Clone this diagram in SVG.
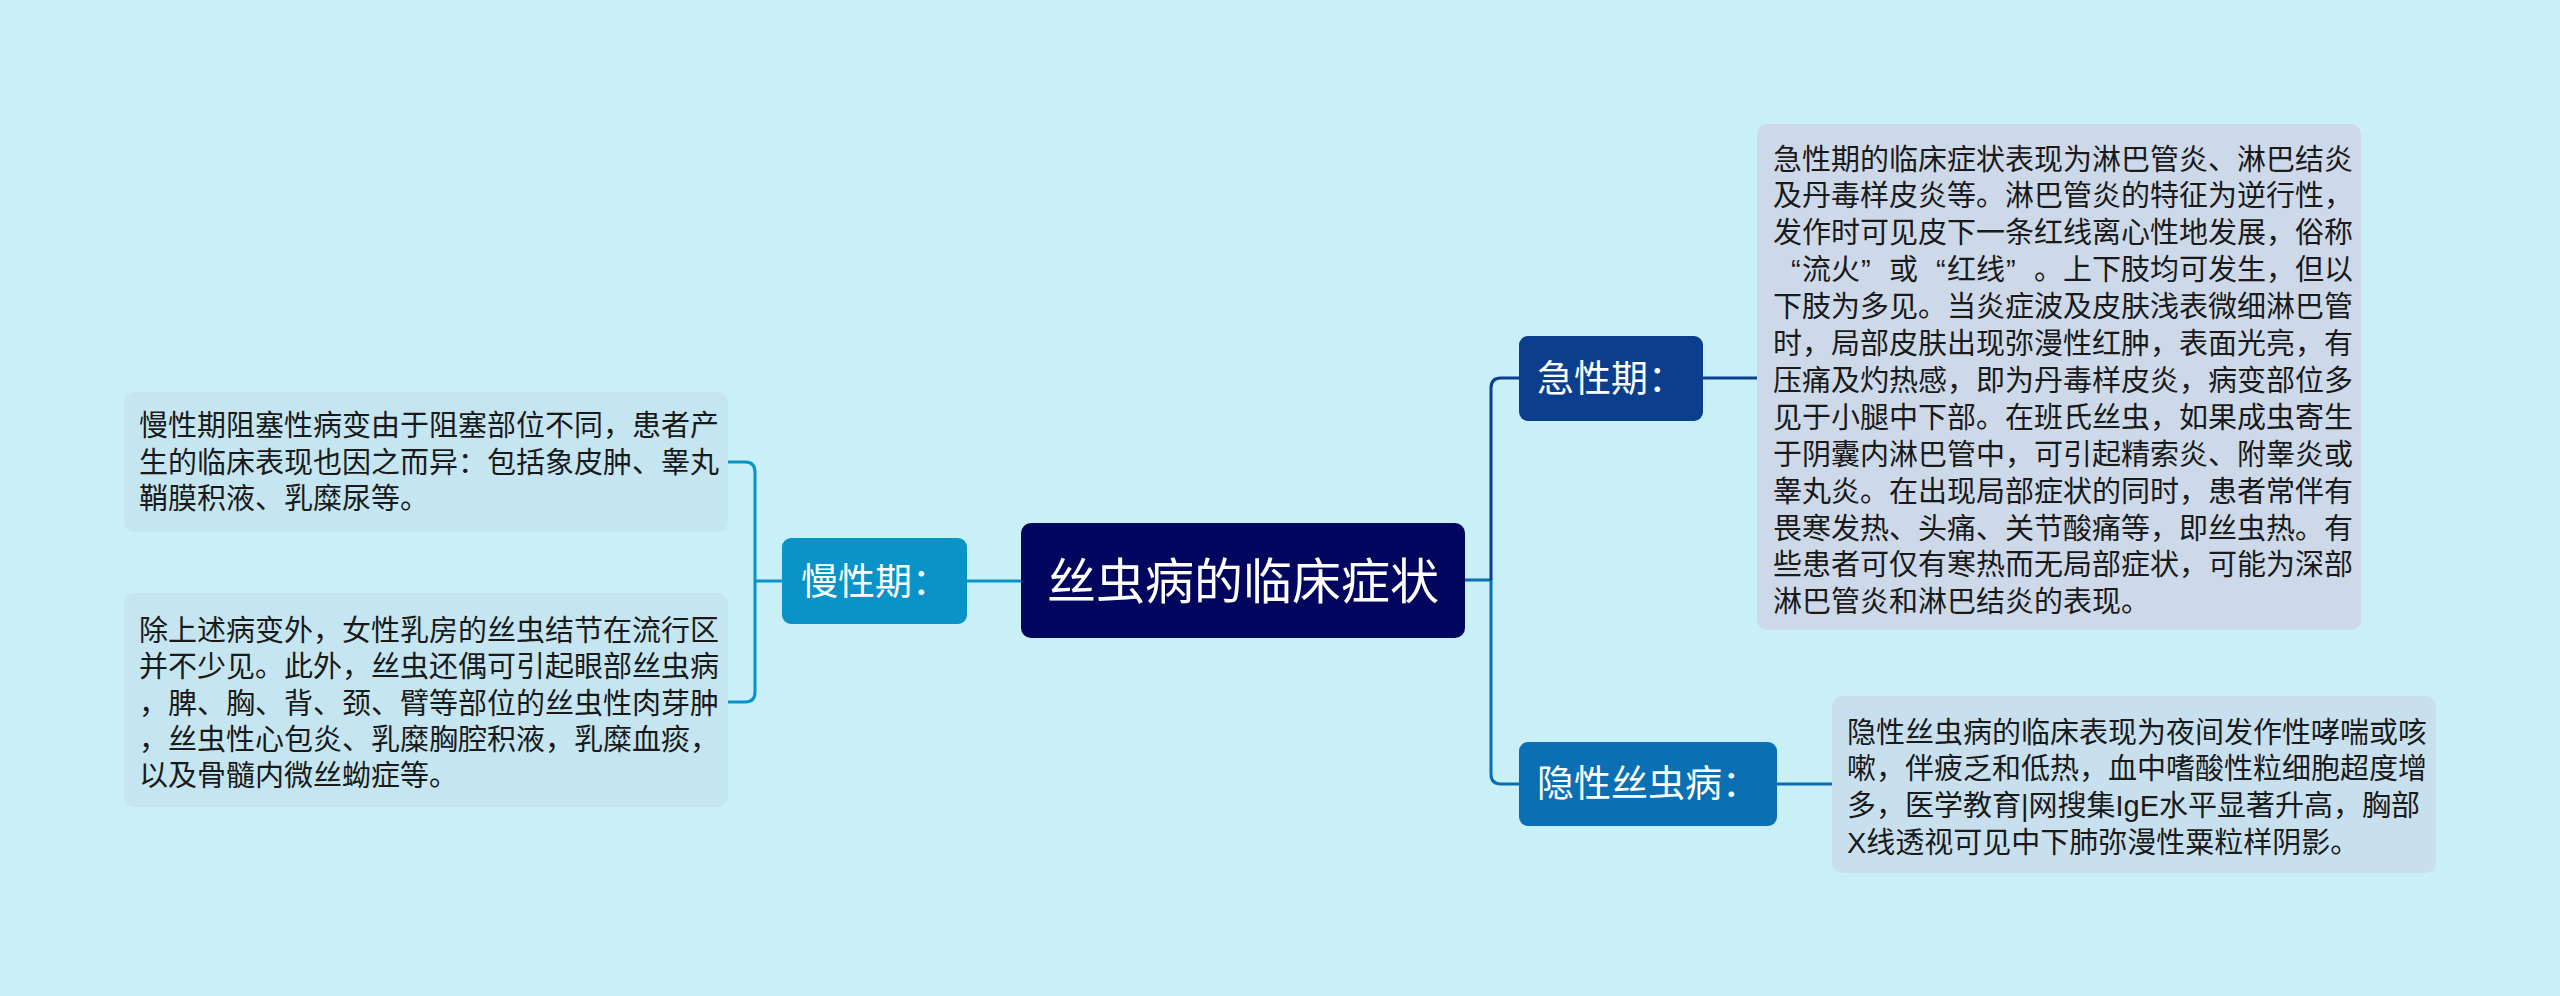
<svg xmlns="http://www.w3.org/2000/svg" width="2560" height="996" viewBox="0 0 2560 996">
<style>
.body{font-family:"Liberation Sans","Noto Sans CJK SC",sans-serif;font-size:29px;fill:#1a1a1a}
.lbl{font-family:"Noto Sans CJK SC","Noto Sans",sans-serif;font-size:37px;fill:#ffffff}
.root{font-family:"Noto Sans CJK SC","Noto Sans",sans-serif;font-size:49px;fill:#ffffff}
.ln{fill:none;stroke-width:3}
</style>
<rect width="2560" height="996" fill="#c9eff7"/>
<g id="connectors">
<path class="ln" stroke="#0993c6" d="M967,581 H1021"/>
<path class="ln" stroke="#0993c6" d="M782,581 H755 M728,462 H745 Q755,462 755,472 V692 Q755,702 745,702 H728"/>
<path class="ln" stroke="#0a6fb0" d="M1465,580 H1491 V774 Q1491,784 1501,784 H1519"/>
<path class="ln" stroke="#0b3f8e" d="M1491,580 V388 Q1491,378 1501,378 H1519"/>
<path class="ln" stroke="#0b3f8e" d="M1703,378 H1757"/>
<path class="ln" stroke="#0a6fb0" d="M1777,784 H1832"/>
</g>
<g id="root">
<rect x="1021" y="523" width="444" height="115" rx="10" fill="#03065f"/>
<text class="root" x="1243" y="599" text-anchor="middle">丝虫病的临床症状</text>
</g>
<g id="chronic">
<rect x="782" y="538" width="185" height="86" rx="9" fill="#0993c6"/>
<text class="lbl" x="801" y="595">慢性期：</text>
</g>
<g id="chronic-text1">
<rect x="124" y="392" width="604" height="140" rx="10" fill="#c5e6f1"/>
<text class="body"><tspan x="139" y="436">慢性期阻塞性病变由于阻塞部位不同，患者产</tspan><tspan x="139" y="472.7">生的临床表现也因之而异：包括象皮肿、睾丸</tspan><tspan x="139" y="509.4">鞘膜积液、乳糜尿等。</tspan></text>
</g>
<g id="chronic-text2">
<rect x="124" y="593" width="604" height="214" rx="10" fill="#c5e6f1"/>
<text class="body"><tspan x="139" y="641">除上述病变外，女性乳房的丝虫结节在流行区</tspan><tspan x="139" y="677.3">并不少见。此外，丝虫还偶可引起眼部丝虫病</tspan><tspan x="139" y="713.6">，脾、胸、背、颈、臂等部位的丝虫性肉芽肿</tspan><tspan x="139" y="749.9">，丝虫性心包炎、乳糜胸腔积液，乳糜血痰，</tspan><tspan x="139" y="786.2">以及骨髓内微丝蚴症等。</tspan></text>
</g>
<g id="acute">
<rect x="1519" y="336" width="184" height="85" rx="9" fill="#0b3f8e"/>
<text class="lbl" x="1537" y="392">急性期：</text>
</g>
<g id="acute-text">
<rect x="1757" y="124" width="604" height="506" rx="10" fill="#cdd9e9"/>
<text class="body"><tspan x="1773" y="169.5">急性期的临床症状表现为淋巴管炎、淋巴结炎</tspan><tspan x="1773" y="206.4">及丹毒样皮炎等。淋巴管炎的特征为逆行性，</tspan><tspan x="1773" y="243.3">发作时可见皮下一条红线离心性地发展，俗称</tspan><tspan x="1791 1802 1831 1861 1889 1936 1947 1976 2006 2034 2063 2092 2121 2150 2179 2208 2237 2266 2295 2324" y="280.2">“流火”或“红线”。上下肢均可发生，但以</tspan><tspan x="1773" y="317.1">下肢为多见。当炎症波及皮肤浅表微细淋巴管</tspan><tspan x="1773" y="354">时，局部皮肤出现弥漫性红肿，表面光亮，有</tspan><tspan x="1773" y="390.9">压痛及灼热感，即为丹毒样皮炎，病变部位多</tspan><tspan x="1773" y="427.8">见于小腿中下部。在班氏丝虫，如果成虫寄生</tspan><tspan x="1773" y="464.7">于阴囊内淋巴管中，可引起精索炎、附睾炎或</tspan><tspan x="1773" y="501.6">睾丸炎。在出现局部症状的同时，患者常伴有</tspan><tspan x="1773" y="538.5">畏寒发热、头痛、关节酸痛等，即丝虫热。有</tspan><tspan x="1773" y="575.4">些患者可仅有寒热而无局部症状，可能为深部</tspan><tspan x="1773" y="612.3">淋巴管炎和淋巴结炎的表现。</tspan></text>
</g>
<g id="occult">
<rect x="1519" y="742" width="258" height="84" rx="9" fill="#0a70b3"/>
<text class="lbl" x="1537" y="797">隐性丝虫病：</text>
</g>
<g id="occult-text">
<rect x="1832" y="696" width="604" height="177" rx="10" fill="#c8e0ed"/>
<text class="body"><tspan x="1847" y="742.5">隐性丝虫病的临床表现为夜间发作性哮喘或咳</tspan><tspan x="1847" y="779.2">嗽，伴疲乏和低热，血中嗜酸性粒细胞超度增</tspan><tspan x="1847" y="815.9">多，医学教育|网搜集IgE水平显著升高，胸部</tspan><tspan x="1847" y="852.6">X线透视可见中下肺弥漫性粟粒样阴影。</tspan></text>
</g>
</svg>
